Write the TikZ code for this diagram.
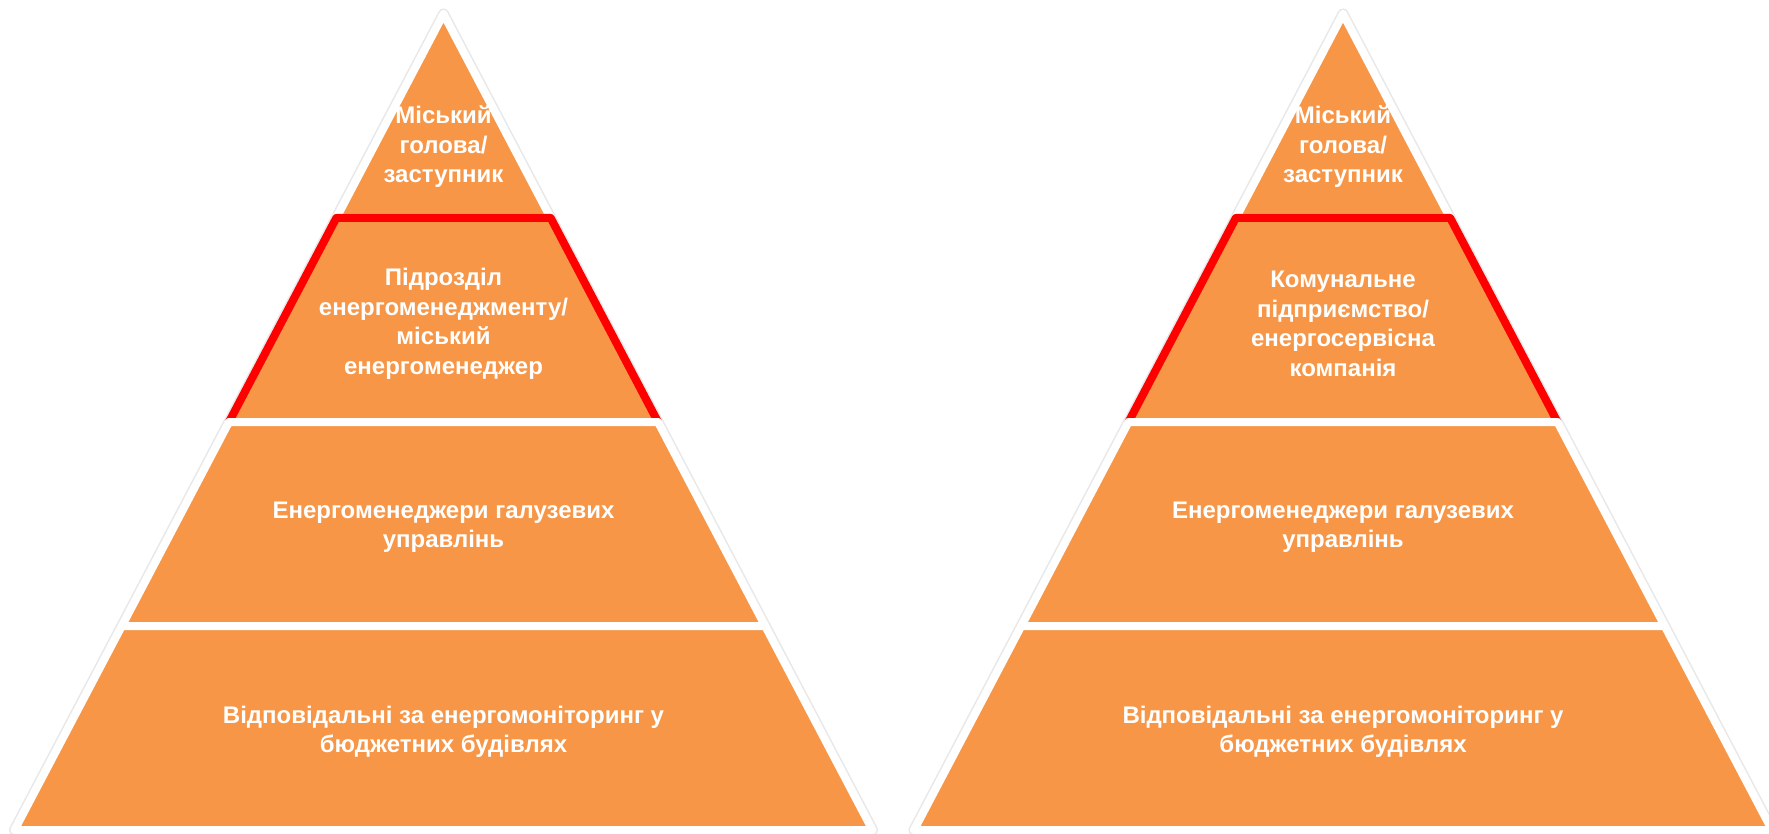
\documentclass[tikz,border=0pt]{standalone}
\usepackage{fontspec}
\setmainfont{Liberation Sans}
\definecolor{pyrorange}{HTML}{F79646}

\begin{document}
\begin{tikzpicture}
    [x=1pt, y=-1pt,
     shd/.style={draw=black!9, line width=11pt, line join=round},
     lvl/.style={fill=pyrorange, draw=white, line width=8pt, line join=round},
     hl/.style={lvl, draw=red},
     tx/.style={text=white, align=center, inner sep=0pt, font=\fontsize{24}{29.5}\selectfont\bfseries}]

    \useasboundingbox [fill=white] (0,0) rectangle (1769,834);

    % left pyramid
    \draw [shd] (443.5,14) -- (872.5,830) -- (14.5,830) -- cycle;
    \draw [lvl] (443.5,14) -- (550.7,218) -- (336.3,218) -- cycle;
    \draw [hl]  (336.3,218) -- (550.7,218) -- (658.0,422) -- (229.0,422) -- cycle;
    \draw [lvl] (229.0,422) -- (658.0,422) -- (765.2,626) -- (121.8,626) -- cycle;
    \draw [lvl] (121.8,626) -- (765.2,626) -- (872.5,830) -- (14.5,830) -- cycle;

    \node [tx] (l1) at (443.5,147) {Міський\\голова/\\заступник};
    \node [tx] (l2) at (443.5,324) {Підрозділ\\енергоменеджменту/\\міський\\енергоменеджер};
    \node [tx] (l3) at (443.5,527) {Енергоменеджери галузевих\\управлінь};
    \node [tx] (l4) at (443.5,732) {Відповідальні за енергомоніторинг у\\бюджетних будівлях};

    % right pyramid
    \draw [shd] (1343,14) -- (1772,830) -- (914,830) -- cycle;
    \draw [lvl] (1343,14) -- (1450.2,218) -- (1235.8,218) -- cycle;
    \draw [hl]  (1235.8,218) -- (1450.2,218) -- (1557.5,422) -- (1128.5,422) -- cycle;
    \draw [lvl] (1128.5,422) -- (1557.5,422) -- (1664.7,626) -- (1021.3,626) -- cycle;
    \draw [lvl] (1021.3,626) -- (1664.7,626) -- (1772,830) -- (914,830) -- cycle;

    \node [tx] (r1) at (1343,147) {Міський\\голова/\\заступник};
    \node [tx] (r2) at (1343,324) {Комунальне\\підприємство/\\енергосервісна\\компанія};
    \node [tx] (r3) at (1343,527) {Енергоменеджери галузевих\\управлінь};
    \node [tx] (r4) at (1343,732) {Відповідальні за енергомоніторинг у\\бюджетних будівлях};
\end{tikzpicture}
\end{document}
